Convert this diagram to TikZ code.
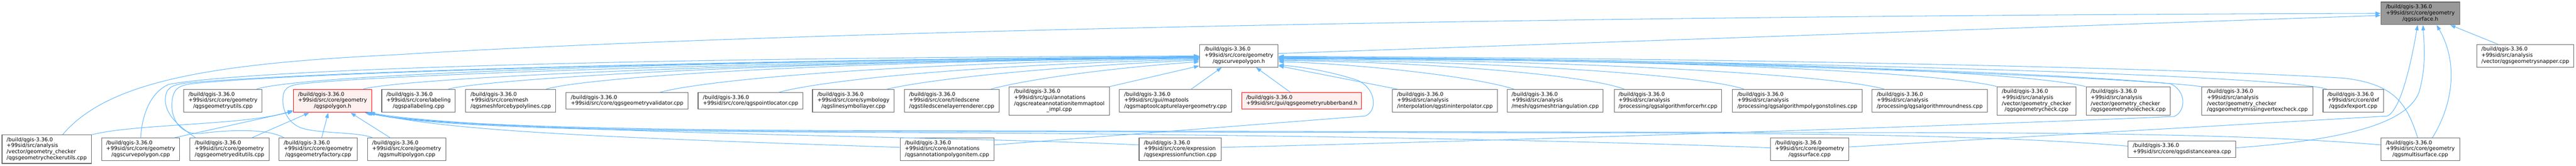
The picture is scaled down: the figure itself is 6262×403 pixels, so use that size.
\documentclass[tikz,border=0pt]{standalone}
\usepackage{fontspec}
\setmainfont{DejaVu Sans}
\usetikzlibrary{arrows.meta}
\definecolor{edgec}{HTML}{63B8FF}
\definecolor{nodeb}{HTML}{666666}
\definecolor{rootf}{HTML}{999999}
\definecolor{redf}{HTML}{FFF0F0}
\newcommand{\ntwo}[2]{\begin{tabular}{@{}l@{}}#1\\\multicolumn{1}{@{}c@{}}{#2}\end{tabular}}
\newcommand{\nthree}[3]{\begin{tabular}{@{}l@{}}#1\\#2\\\multicolumn{1}{@{}c@{}}{#3}\end{tabular}}
\newcommand{\nfour}[4]{\begin{tabular}{@{}l@{}}#1\\#2\\#3\\\multicolumn{1}{@{}c@{}}{#4}\end{tabular}}
\newcommand{\bq}{/build/qgis-3.36.0}
\tikzset{
  nbox/.style={draw=nodeb, fill=white, line width=1.3pt, inner sep=0pt, anchor=center,
    font=\fontsize{12.85pt}{14.7pt}\selectfont},
  redbox/.style={nbox, draw=red, fill=redf},
  rootbox/.style={nbox, fill=rootf},
  sz/.style 2 args={minimum width=#1pt, minimum height=#2pt},
  dep/.style={draw=edgec, line width=1.3pt, -{Triangle[length=13pt,width=9pt]}},
}
\begin{document}
\begin{tikzpicture}[x=1pt,y=-1pt]
\useasboundingbox (0,0) rectangle (6262,403);
% top level
\node[rootbox, sz={191}{55}] (surf) at (5883.5,32.5) {\nthree{\bq}{+99sid/src/core/geometry}{/qgssurface.h}};
\node[nbox, sz={191}{55}] (M) at (3011.5,135.5) {\nthree{\bq}{+99sid/src/core/geometry}{/qgscurvepolygon.h}};
\node[nbox, sz={235}{55}] (W) at (6138.5,135.5) {\nthree{\bq}{+99sid/src/analysis}{/vector/qgsgeometrysnapper.cpp}};
% row 2
\node[nbox, sz={190}{56}] (A) at (542,245) {\nthree{\bq}{+99sid/src/core/geometry}{/qgsgeometryutils.cpp}};
\node[redbox, sz={191}{56}] (B) at (808.5,245) {\nthree{\bq}{+99sid/src/core/geometry}{/qgspolygon.h}};
\node[nbox, sz={179}{56}] (C) at (1017.5,245) {\nthree{\bq}{+99sid/src/core/labeling}{/qgspallabeling.cpp}};
\node[nbox, sz={219}{56}] (D) at (1241.5,245) {\nthree{\bq}{+99sid/src/core/mesh}{/qgsmeshforcebypolylines.cpp}};
\node[nbox, sz={297}{40}] (E) at (1524.5,245) {\ntwo{\bq}{+99sid/src/core/qgsgeometryvalidator.cpp}};
\node[nbox, sz={255}{40}] (F) at (1824.5,245) {\ntwo{\bq}{+99sid/src/core/qgspointlocator.cpp}};
\node[nbox, sz={199}{56}] (G) at (2074.5,245) {\nthree{\bq}{+99sid/src/core/symbology}{/qgslinesymbollayer.cpp}};
\node[nbox, sz={231}{56}] (N) at (2313.5,245) {\nthree{\bq}{+99sid/src/core/tiledscene}{/qgstiledscenelayerrenderer.cpp}};
\node[nbox, sz={244}{69}] (O) at (2575,245.5) {\nfour{\bq}{+99sid/src/gui/annotations}{/qgscreateannotationitemmaptool}{\_impl.cpp}};
\node[nbox, sz={273}{56}] (P) at (2857.5,245) {\nthree{\bq}{+99sid/src/gui/maptools}{/qgsmaptoolcapturelayergeometry.cpp}};
\node[redbox, sz={291}{40}] (Q) at (3164.5,245) {\ntwo{\bq}{+99sid/src/gui/qgsgeometryrubberband.h}};
\node[nbox, sz={255}{56}] (R) at (3512.5,245) {\nthree{\bq}{+99sid/src/analysis}{/interpolation/qgstininterpolator.cpp}};
\node[nbox, sz={233}{56}] (S) at (3780.5,245) {\nthree{\bq}{+99sid/src/analysis}{/mesh/qgsmeshtriangulation.cpp}};
\node[nbox, sz={261}{56}] (T) at (4054.5,245) {\nthree{\bq}{+99sid/src/analysis}{/processing/qgsalgorithmforcerhr.cpp}};
\node[nbox, sz={316}{56}] (X) at (4369,245) {\nthree{\bq}{+99sid/src/analysis}{/processing/qgsalgorithmpolygonstolines.cpp}};
\node[nbox, sz={280}{56}] (Y) at (4691,245) {\nthree{\bq}{+99sid/src/analysis}{/processing/qgsalgorithmroundness.cpp}};
\node[nbox, sz={191}{69}] (Z) at (4950.5,245.5) {\nfour{\bq}{+99sid/src/analysis}{/vector/geometry\_checker}{/qgsgeometrycheck.cpp}};
\node[nbox, sz={205}{69}] (AA) at (5173.5,245.5) {\nfour{\bq}{+99sid/src/analysis}{/vector/geometry\_checker}{/qgsgeometryholecheck.cpp}};
\node[nbox, sz={271}{69}] (AB) at (5487.5,245.5) {\nfour{\bq}{+99sid/src/analysis}{/vector/geometry\_checker}{/qgsgeometrymissingvertexcheck.cpp}};
\node[nbox, sz={147}{56}] (AC) at (5720.5,245) {\nthree{\bq}{+99sid/src/core/dxf}{/qgsdxfexport.cpp}};
% row 3
\node[nbox, sz={217}{69}] (H) at (113.5,362.5) {\nfour{\bq}{+99sid/src/analysis}{/vector/geometry\_checker}{/qgsgeometrycheckerutils.cpp}};
\node[nbox, sz={190}{55}] (I) at (342,362.5) {\nthree{\bq}{+99sid/src/core/geometry}{/qgscurvepolygon.cpp}};
\node[nbox, sz={192}{55}] (J) at (558,362.5) {\nthree{\bq}{+99sid/src/core/geometry}{/qgsgeometryeditutils.cpp}};
\node[nbox, sz={191}{55}] (K) at (773.5,362.5) {\nthree{\bq}{+99sid/src/core/geometry}{/qgsgeometryfactory.cpp}};
\node[nbox, sz={191}{55}] (L) at (988.5,362.5) {\nthree{\bq}{+99sid/src/core/geometry}{/qgsmultipolygon.cpp}};
\node[nbox, sz={228}{55}] (U) at (2302,362.5) {\nthree{\bq}{+99sid/src/core/annotations}{/qgsannotationpolygonitem.cpp}};
\node[nbox, sz={200}{55}] (V) at (2869,362.5) {\nthree{\bq}{+99sid/src/core/expression}{/qgsexpressionfunction.cpp}};
\node[nbox, sz={190}{55}] (AD) at (4399,362.5) {\nthree{\bq}{+99sid/src/core/geometry}{/qgssurface.cpp}};
\node[nbox, sz={262}{41}] (AE) at (5304,362.5) {\ntwo{\bq}{+99sid/src/core/qgsdistancearea.cpp}};
\node[nbox, sz={191}{55}] (AF) at (5883.5,362.5) {\nthree{\bq}{+99sid/src/core/geometry}{/qgsmultisurface.cpp}};
% ---- edges into qgssurface.h
\draw[dep] ([xshift=38.5pt]H.north) .. controls (260,200) and (500,155) .. (962,133) .. controls (1900,75) and (3800,38) .. (surf.west);
\draw[dep] ([yshift=5.5pt]M.east) -- ([yshift=-5pt]surf.west);
\draw[dep] ([yshift=5.5pt]AD.east) -- (5803,282) .. controls (5835,268) and (5860,160) .. ([xshift=-6.5pt]surf.south);
\draw[dep] ([yshift=3.5pt]AE.east) .. controls (5700,340) and (5850,300) .. (5880,225) .. controls (5898,165) and (5893,110) .. ([xshift=6.5pt]surf.south);
\draw[dep] ([xshift=29.5pt]AF.north) .. controls (5965,250) and (5975,150) .. ([xshift=39.5pt]surf.south);
\draw[dep] ([xshift=-66.5pt]W.north) -- ([xshift=72.5pt]surf.south);
% ---- edges into qgscurvepolygon.h (left)
\draw[dep] ([xshift=82pt]A.north) .. controls (720,185) and (1500,150) .. ([yshift=-2.5pt]M.west);
\draw[dep] ([xshift=74.5pt]B.north) .. controls (960,195) and (1600,155) .. ([yshift=-4.5pt]M.west);
\draw[dep] ([xshift=72.5pt]C.north) .. controls (1170,195) and (1800,150) .. ([yshift=-4.5pt]M.west);
\draw[dep] ([xshift=86.5pt]D.north) .. controls (1420,190) and (1950,150) .. ([yshift=-5.5pt]M.west);
\draw[dep] ([xshift=79.5pt]E.north) .. controls (1700,198) and (2100,155) .. ([yshift=-6.5pt]M.west);
\draw[dep] ([xshift=68.5pt]F.north) .. controls (1980,200) and (2300,160) .. ([yshift=-8.5pt]M.west);
\draw[dep] ([xshift=82.5pt]G.north) .. controls (2250,195) and (2500,165) .. ([yshift=-10.5pt]M.west);
\draw[dep] ([xshift=95.5pt]N.north) .. controls (2500,192) and (2700,165) .. ([yshift=-14.5pt]M.west);
\draw[dep] (O.north east) -- ([yshift=-24.5pt]M.west);
\draw[dep] ([xshift=38.5pt]P.north) -- ([xshift=-41.5pt]M.south);
\draw[dep] ([xshift=-27.5pt]Q.north) -- ([xshift=41.5pt]M.south);
\draw[dep] (I.north) .. controls (345,280) and (365,225) .. (410,205) .. controls (600,170) and (1500,140) .. ([yshift=-0.5pt]M.west);
\draw[dep] ([xshift=-83pt]J.north) .. controls (440,310) and (400,280) .. (402,240) .. controls (403,215) and (415,207) .. (450,202) .. controls (700,178) and (1600,148) .. ([yshift=-1.5pt]M.west);
\draw[dep] ([xshift=-83.5pt]K.north) .. controls (650,312) and (560,315) .. (490,324) .. controls (440,330) and (415,290) .. (418,250) .. controls (420,215) and (435,207) .. (470,203) .. controls (720,178) and (1600,150) .. ([yshift=-2.5pt]M.west);
\draw[dep] ([xshift=-83.5pt]L.north) .. controls (870,320) and (770,325) .. (730,310) .. controls (695,295) and (685,260) .. (688,235) .. controls (690,212) and (705,206) .. (740,203) .. controls (900,185) and (1700,152) .. ([yshift=-3.5pt]M.west);
% ---- edges into qgscurvepolygon.h (right)
\draw[dep] ([xshift=-116.5pt]R.north) -- ([yshift=-24.5pt]M.east);
\draw[dep] ([xshift=-100.5pt]S.north) .. controls (3580,185) and (3300,155) .. ([yshift=-14.5pt]M.east);
\draw[dep] ([xshift=-106.5pt]T.north) .. controls (3850,180) and (3450,150) .. ([yshift=-11.5pt]M.east);
\draw[dep] ([xshift=-130pt]X.north) .. controls (4130,180) and (3600,148) .. ([yshift=-9.5pt]M.east);
\draw[dep] ([xshift=-111pt]Y.north) .. controls (4450,180) and (3800,145) .. ([yshift=-7.5pt]M.east);
\draw[dep] (Z.north west) .. controls (4700,170) and (3900,142) .. ([yshift=-5.5pt]M.east);
\draw[dep] (AA.north west) .. controls (4900,168) and (4000,140) .. ([yshift=-4.5pt]M.east);
\draw[dep] (AB.north west) .. controls (5200,190) and (4300,150) .. ([yshift=-3.5pt]M.east);
\draw[dep] ([xshift=-64.5pt]AC.north) .. controls (5550,185) and (4500,150) .. ([yshift=-2.5pt]M.east);
\draw[dep] ([xshift=-6.5pt]AF.north) .. controls (5850,250) and (5820,205) .. (5700,190) .. controls (5200,160) and (4000,140) .. ([yshift=-1.5pt]M.east);
\draw[dep] ([yshift=4.5pt]V.east) .. controls (3800,338) and (4900,300) .. (5285,283) .. controls (5315,270) and (5315,220) .. (5275,203) .. controls (4900,170) and (4000,145) .. ([yshift=-6.5pt]M.east);
\draw[dep] ([yshift=10.5pt]U.east) -- (3318,282) .. controls (3350,270) and (3345,215) .. (3300,195) .. controls (3230,172) and (3160,162) .. ([yshift=-22.5pt]M.east);
% ---- edges into qgspolygon.h
\draw[dep] (H.north east) .. controls (330,300) and (600,305) .. ([yshift=-23pt]B.west);
\draw[dep] ([xshift=83pt]I.north) -- ([yshift=-26pt]B.west);
\draw[dep] ([xshift=55pt]J.north) -- ([xshift=-56.5pt]B.south);
\draw[dep] ([xshift=8.5pt]K.north) -- ([xshift=-10.5pt]B.south);
\draw[dep] ([xshift=-40.5pt]L.north) -- ([xshift=43.5pt]B.south);
\draw[dep] ([yshift=4.5pt]U.west) .. controls (1500,335) and (1100,320) .. ([xshift=-6pt]B.south east);
\draw[dep] ([yshift=10.5pt]V.west) .. controls (2300,330) and (1200,325) .. ([xshift=-9pt]B.south east);
\draw[dep] ([yshift=3.5pt]AD.west) .. controls (3800,340) and (3000,325) .. (2000,321) .. controls (1300,318) and (1000,300) .. ([xshift=-12pt]B.south east);
\draw[dep] ([yshift=7.5pt]AE.west) .. controls (4900,332) and (4500,325) .. (4000,323) -- (2000,319) .. controls (1300,316) and (1000,298) .. ([xshift=-15pt]B.south east);
\draw[dep] ([yshift=10.5pt]AF.west) .. controls (5500,328) and (5100,322) .. (4500,322) -- (2000,317) .. controls (1300,314) and (1000,296) .. ([xshift=-18pt]B.south east);
\end{tikzpicture}
\end{document}
